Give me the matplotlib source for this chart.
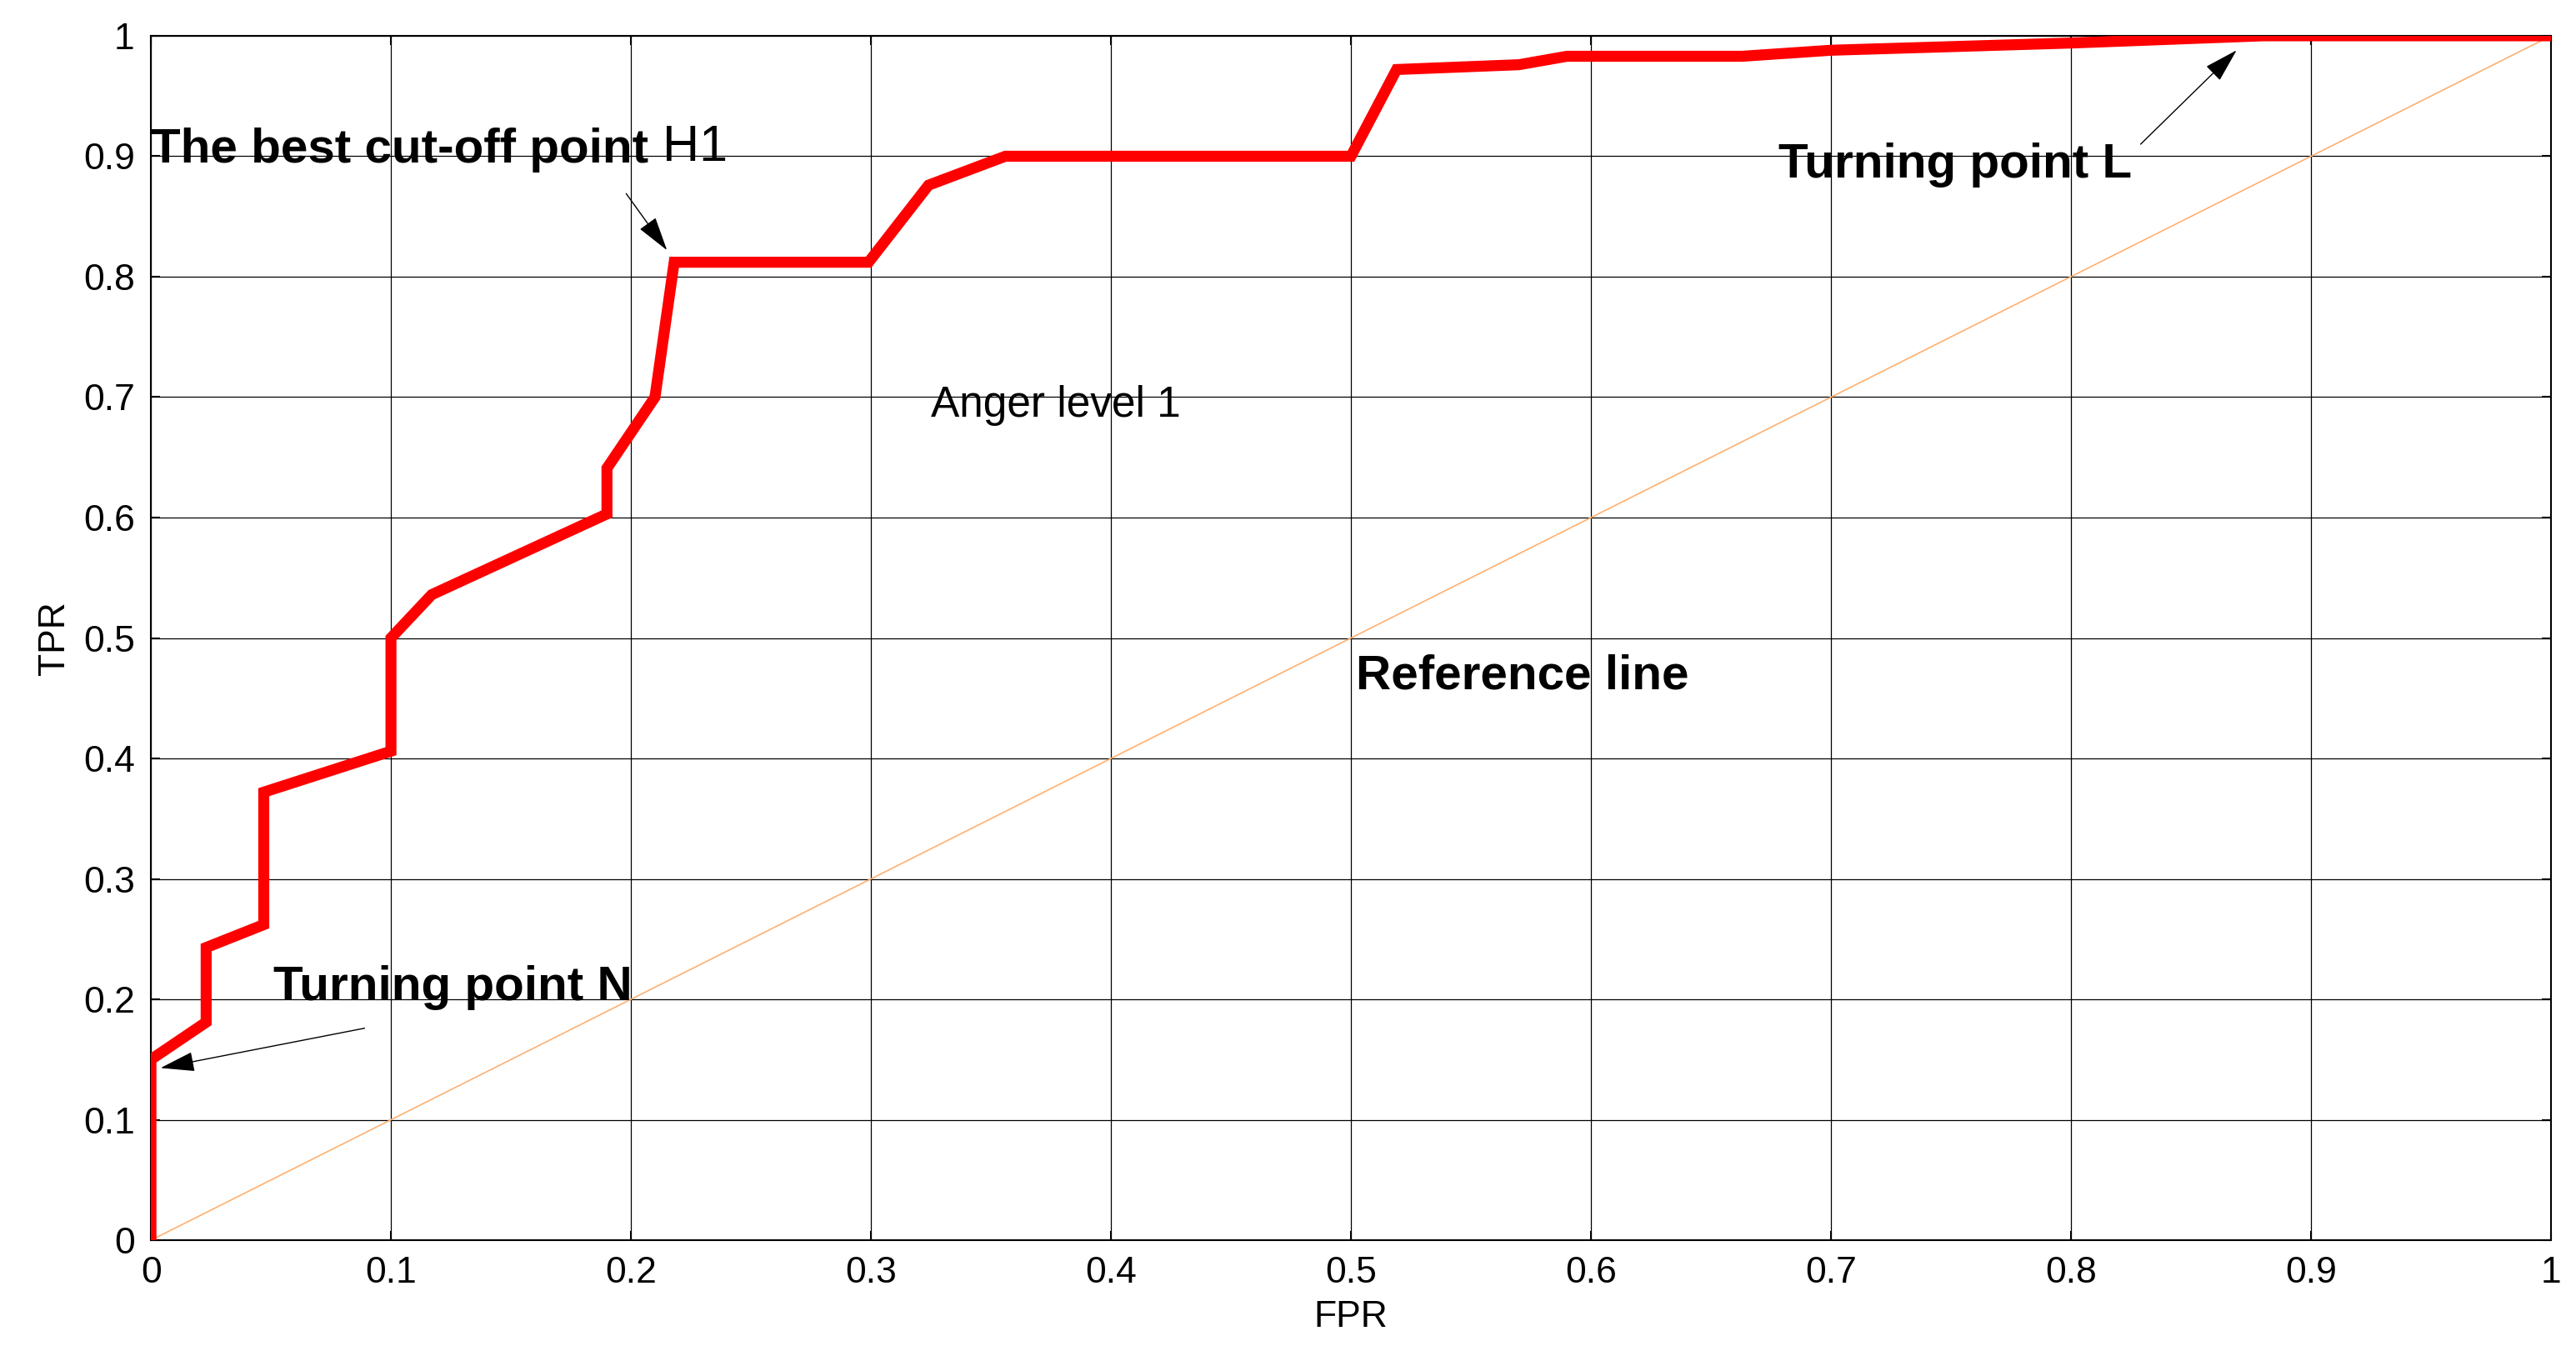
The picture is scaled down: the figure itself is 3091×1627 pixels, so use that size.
import matplotlib
matplotlib.use("Agg")
import matplotlib.pyplot as plt

plt.rcParams["font.family"] = ["Liberation Sans", "DejaVu Sans"]

# ROC curve points
fpr = [0.0, 0.0, 0.023, 0.023, 0.047, 0.047, 0.1, 0.1, 0.117, 0.19, 0.19,
       0.21, 0.218, 0.299, 0.324, 0.356, 0.5, 0.519, 0.57, 0.59, 0.663,
       0.70, 0.80, 0.88, 1.0]
tpr = [0.0, 0.15, 0.181, 0.243, 0.262, 0.372, 0.406, 0.5, 0.536, 0.603, 0.641,
       0.70, 0.812, 0.812, 0.876, 0.90, 0.90, 0.972, 0.976, 0.983, 0.983,
       0.988, 0.994, 1.0, 1.0]
ref_x = [0, 1]
ref_y = [0, 1]
ticks = [0, 0.1, 0.2, 0.3, 0.4, 0.5, 0.6, 0.7, 0.8, 0.9, 1]
tick_labels = ["0", "0.1", "0.2", "0.3", "0.4", "0.5", "0.6", "0.7", "0.8", "0.9", "1"]

fig = plt.figure(figsize=(30.91, 16.27), dpi=100)
ax = fig.add_axes([0.0586, 0.0854, 0.9317, 0.8882])

ax.plot(ref_x, ref_y, color="#FFB070", lw=1.2, zorder=2)
ax.plot(fpr, tpr, color="#FF0000", lw=9.5, solid_joinstyle="miter", zorder=3)

ax.set_xlim(0, 1)
ax.set_ylim(0, 1)
ax.set_xticks(ticks)
ax.set_yticks(ticks)
ax.set_xticklabels(tick_labels)
ax.set_yticklabels(tick_labels)
ax.tick_params(direction="in", top=True, right=True, length=8, width=1.5,
               labelsize=32, pad=14)
ax.grid(True, color="black", lw=0.9, ls="-")
for s in ax.spines.values():
    s.set_linewidth(1.5)

ax.set_xlabel("FPR", fontsize=32, labelpad=8)
ax.set_ylabel("TPR", fontsize=32, labelpad=10)

arrow = dict(arrowstyle="-|>,head_length=2.6,head_width=0.75",
             color="black", lw=1, shrinkA=0, shrinkB=0)

# annotations
ax.text(0.0, 0.905, "The best cut-off point", fontsize=42, fontweight="bold",
        va="center", ha="left")
ax.text(0.213, 0.907, "H1", fontsize=44, va="center", ha="left")
ax.annotate("", xy=(0.215, 0.822), xytext=(0.198, 0.869), arrowprops=arrow)

ax.text(0.051, 0.21, "Turning point N", fontsize=42, fontweight="bold",
        va="center", ha="left")
ax.annotate("", xy=(0.004, 0.143), xytext=(0.089, 0.176), arrowprops=arrow)

ax.text(0.678, 0.893, "Turning point L", fontsize=42, fontweight="bold",
        va="center", ha="left")
ax.annotate("", xy=(0.869, 0.988), xytext=(0.829, 0.91), arrowprops=arrow)

ax.text(0.325, 0.693, "Anger level 1", fontsize=37, va="center", ha="left")
ax.text(0.502, 0.468, "Reference line", fontsize=42, fontweight="bold",
        va="center", ha="left")

fig.savefig("out.png", dpi=100)
